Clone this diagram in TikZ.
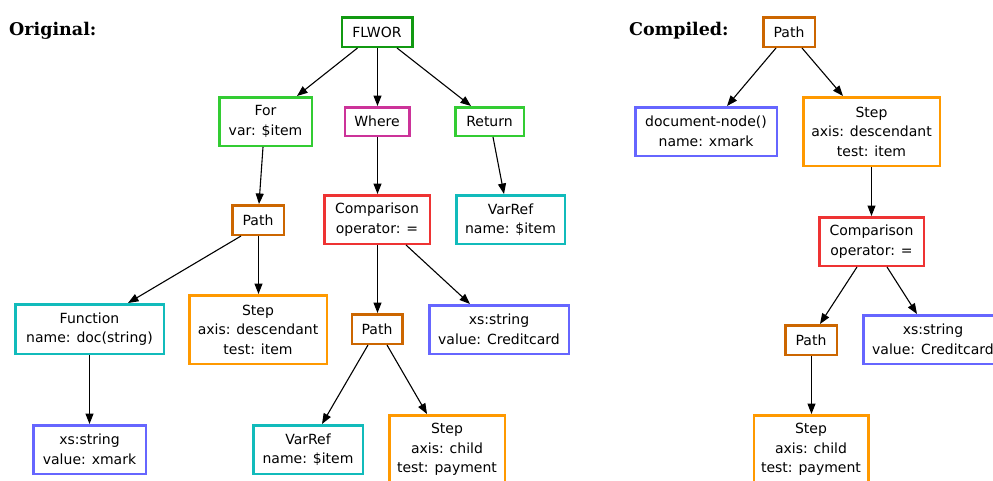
\documentclass[tikz,border=0pt]{standalone}
\usepackage{fontspec}
\usetikzlibrary{arrows.meta}
\newfontfamily\boxfont{DejaVu Sans}
\newfontfamily\headfont{DejaVu Serif}

\definecolor{cFlwor}{HTML}{119911}
\definecolor{cGreen}{HTML}{33CC33}
\definecolor{cWhere}{HTML}{CC3399}
\definecolor{cPath}{HTML}{CC6600}
\definecolor{cComp}{HTML}{EE3333}
\definecolor{cTeal}{HTML}{11BBBB}
\definecolor{cStep}{HTML}{FF9900}
\definecolor{cStr}{HTML}{6666FF}

\tikzset{
  ast/.style={draw=#1, line width=2.5pt, fill=white, inner sep=0pt,
    align=center, font=\boxfont\fontsize{14pt}{19.5pt}\selectfont},
  box/.style 2 args={minimum width=#1pt-2.5pt, minimum height=#2pt-2.5pt},
  edge/.style={line width=1.1pt, -{Triangle[length=10.5pt,width=8pt]}},
  heading/.style={anchor=base west, inner sep=0pt,
    font=\headfont\bfseries\fontsize{17.5pt}{20pt}\selectfont},
}

\begin{document}
\begin{tikzpicture}[x=1pt,y=-1pt]
\useasboundingbox (0,0) rectangle (993,480);

% ---------- query tree before compilation ----------
\node[heading] (origTitle) at (9,35) {Original:};

\node[ast=cFlwor, box={73}{32}]  (flwor) at (377,32)    {FLWOR};
\node[ast=cGreen, box={95}{51}]  (for)   at (265.5,121.5) {For\\var: \$item};
\node[ast=cWhere, box={67}{31}]  (where) at (377,121.5) {Where};
\node[ast=cGreen, box={71}{31}]  (ret)   at (489.5,121.5) {Return};
\node[ast=cPath,  box={54}{32}]  (pathA) at (258,220)   {Path};
\node[ast=cComp,  box={108}{51}] (cmpA)  at (377,219.5) {Comparison\\operator: =};
\node[ast=cTeal,  box={111}{51}] (varA)  at (510.5,219.5) {VarRef\\name: \$item};
\node[ast=cTeal,  box={151}{52}] (func)  at (89.5,329)  {Function\\name: doc(string)};
\node[ast=cStep,  box={140}{71}] (stepA) at (258,329.5) {Step\\axis: descendant\\test: item};
\node[ast=cPath,  box={53}{32}]  (pathB) at (377,329)   {Path};
\node[ast=cStr,   box={142}{51}] (strA)  at (499,329.5) {xs:string\\value: Creditcard};
\node[ast=cStr,   box={115}{51}] (strX)  at (89.5,449.5) {xs:string\\value: xmark};
\node[ast=cTeal,  box={112}{51}] (varB)  at (308,449.5) {VarRef\\name: \$item};
\node[ast=cStep,  box={118}{71}] (stepB) at (447,449.5) {Step\\axis: child\\test: payment};

\draw[edge] ([xshift=-19.5pt]flwor.south) -- ([xshift=31.5pt]for.north);
\draw[edge] ([xshift=.5pt]flwor.south) -- ([xshift=.5pt]where.north);
\draw[edge] ([xshift=20pt]flwor.south) -- ([xshift=-18.5pt]ret.north);
\draw[edge] ([xshift=-2.5pt]for.south) -- ([xshift=1pt]pathA.north);
\draw[edge] ([xshift=.5pt]where.south) -- ([xshift=.5pt]cmpA.north);
\draw[edge] ([xshift=3.5pt]ret.south) -- ([xshift=-6.5pt]varA.north);
\draw[edge] ([xshift=-17pt]pathA.south) -- ([xshift=38.5pt]func.north);
\draw[edge] ([xshift=.5pt]pathA.south) -- ([xshift=.5pt]stepA.north);
\draw[edge] ([xshift=.5pt]cmpA.south) -- ([xshift=.5pt]pathB.north);
\draw[edge] ([xshift=29pt]cmpA.south) -- ([xshift=-29pt]strA.north);
\draw[edge] (func.south) -- (strX.north);
\draw[edge] ([xshift=-9pt]pathB.south) -- ([xshift=14pt]varB.north);
\draw[edge] ([xshift=10pt]pathB.south) -- ([xshift=-20pt]stepB.north);

% ---------- compiled path expression ----------
\node[heading] (compTitle) at (629,35) {Compiled:};

\node[ast=cPath, box={54}{32}]  (pathC) at (789,32)      {Path};
\node[ast=cStr,  box={144}{51}] (doc)   at (706,131.5)   {document-node()\\name: xmark};
\node[ast=cStep, box={139}{71}] (stepC) at (871.5,131.5) {Step\\axis: descendant\\test: item};
\node[ast=cComp, box={107}{51}] (cmpC)  at (871.5,241.5) {Comparison\\operator: =};
\node[ast=cPath, box={54}{32}]  (pathD) at (811,340)     {Path};
\node[ast=cStr,  box={142}{51}] (strB)  at (933,339.5)   {xs:string\\value: Creditcard};
\node[ast=cStep, box={117}{71}] (stepD) at (811,449.5)   {Step\\axis: child\\test: payment};

\draw[edge] ([xshift=-13pt]pathC.south) -- ([xshift=21pt]doc.north);
\draw[edge] ([xshift=13pt]pathC.south) -- ([xshift=-28.5pt]stepC.north);
\draw[edge] (stepC.south) -- (cmpC.north);
\draw[edge] ([xshift=-14.5pt]cmpC.south) -- ([xshift=9pt]pathD.north);
\draw[edge] ([xshift=15.5pt]cmpC.south) -- ([xshift=-16pt]strB.north);
\draw[edge] ([xshift=.5pt]pathD.south) -- ([xshift=.5pt]stepD.north);
\end{tikzpicture}
\end{document}
